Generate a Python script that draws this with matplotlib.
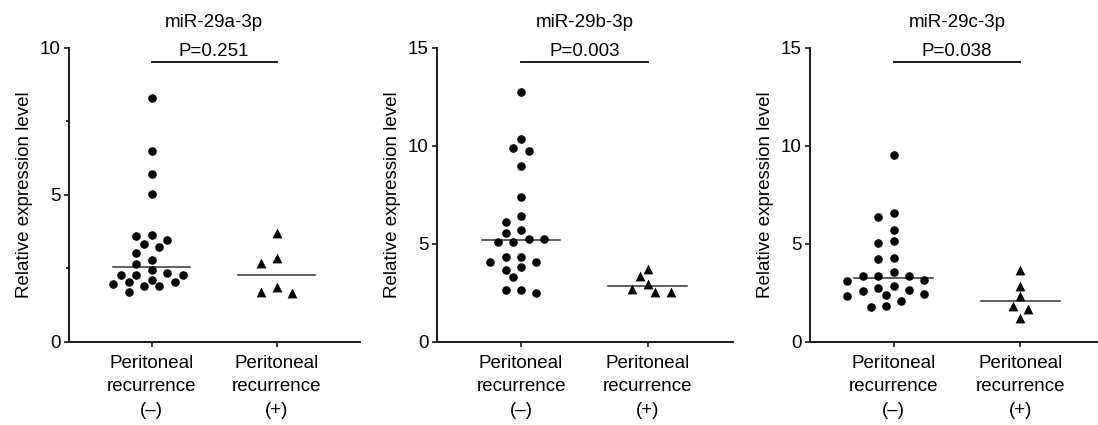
import numpy as np
import matplotlib
matplotlib.use("Agg")
import matplotlib.pyplot as plt

plt.rcParams['font.family'] = ['Liberation Sans', 'DejaVu Sans']

# ---- data ----
titles = ["miR-29a-3p", "miR-29b-3p", "miR-29c-3p"]
p_values = ["P=0.251", "P=0.003", "P=0.038"]
categories = ["Peritoneal\nrecurrence\n(\u2013)", "Peritoneal\nrecurrence\n(+)"]
y_label = "Relative expression level"
y_max = [10, 15, 15]
y_ticks = [[0, 5, 10], [0, 5, 10, 15], [0, 5, 10, 15]]

a_neg = [8.28, 6.50, 5.70, 5.02, 3.65, 3.61, 3.47, 3.32, 3.23, 3.02, 2.80, 2.64,
         2.35, 2.28, 2.28, 2.28, 2.46, 1.97, 2.12, 2.03, 1.89, 1.89, 2.05, 1.69]
a_pos = [3.69, 2.84, 2.67, 1.67, 1.85, 1.71]

b_neg = [12.72, 10.34, 9.73, 9.87, 8.96, 7.40, 6.43, 6.12, 5.68, 5.56, 5.27, 5.10,
         5.10, 5.24, 4.34, 4.31, 4.05, 4.05, 3.69, 3.80, 3.32, 2.48, 2.64, 2.64]
b_pos = [2.52, 3.35, 2.93, 3.71, 2.55, 2.72]

c_neg = [9.54, 6.58, 6.36, 5.68, 5.12, 5.06, 4.21, 4.28, 3.38, 3.38, 3.38, 3.56,
         3.17, 3.09, 2.58, 2.76, 2.63, 2.83, 2.32, 2.37, 2.46, 2.10, 1.78, 1.81]
c_pos = [3.65, 2.87, 2.32, 1.85, 1.70, 1.22]

groups = [(a_neg, a_pos), (b_neg, b_pos), (c_neg, c_pos)]
sig_bar_frac = 0.95  # bar height as fraction of y max

# ---- layout ----
W, H = 1098, 425
fig = plt.figure(figsize=(W / 100, H / 100), dpi=100)
xlim = (0.34, 2.67)
panel_px = [(69.2, 125.0), (437.4, 126.7), (810.1, 126.6)]  # left px, px per category
ax_bottom_px, ax_top_px = 341.9, 47.7
FS = 13.5


def swarm_x(ax, xc, vals, step_px=7.7, dmin_px=10.0):
    vals = np.asarray(vals, float)
    n = len(vals)
    pts = ax.transData.transform(np.column_stack([np.full(n, xc), vals]))
    ypx = pts[:, 1]
    xcpx = pts[0, 0]
    offs = np.zeros(n)
    placed = []
    cands = [0]
    for k in range(1, 12):
        cands += [-k, k]
    for i in np.argsort(-vals, kind="stable"):
        for k in cands:
            x = k * step_px
            if all((x - px) ** 2 + (ypx[i] - py) ** 2 >= dmin_px ** 2 for px, py in placed):
                break
        placed.append((x, ypx[i]))
        offs[i] = x
    back = ax.transData.inverted().transform(np.column_stack([xcpx + offs, ypx]))
    return back[:, 0]


for idx, ((neg, pos), ttl, pv) in enumerate(zip(groups, titles, p_values)):
    left_px, s = panel_px[idx]
    width_px = (xlim[1] - xlim[0]) * s
    ax = fig.add_axes([left_px / W, 1 - ax_bottom_px / H, width_px / W,
                       (ax_bottom_px - ax_top_px) / H])
    ax.set_xlim(*xlim)
    ax.set_ylim(0, y_max[idx])
    for sp in ["top", "right"]:
        ax.spines[sp].set_visible(False)
    for sp in ["left", "bottom"]:
        ax.spines[sp].set_linewidth(1.4)
        ax.spines[sp].set_color("#1a1a1a")

    xn = swarm_x(ax, 1, neg)
    xp = swarm_x(ax, 2, pos)
    ax.scatter(xn, neg, s=38, marker="o", color="black", linewidths=0, zorder=3, clip_on=False)
    ax.scatter(xp, pos, s=50, marker="^", color="black", linewidths=0, zorder=3, clip_on=False)

    hw = 0.31
    for xc, vals in [(1, neg), (2, pos)]:
        m = np.median(vals)
        ax.plot([xc - hw, xc + hw], [m, m], color="#333333", lw=1.1, zorder=2)

    ybar = sig_bar_frac * y_max[idx]
    ax.plot([1, 2], [ybar, ybar], color="#1a1a1a", lw=1.4, clip_on=False)
    ax.annotate(pv, xy=(1.5, ybar), xytext=(0, 4.7), textcoords="offset points",
                ha="center", va="baseline", fontsize=FS)
    ax.annotate(ttl, xy=(1.5, 1.0), xycoords=("data", "axes fraction"),
                xytext=(0, 14.7), textcoords="offset points",
                ha="center", va="baseline", fontsize=FS)

    ax.set_xticks([1, 2])
    ax.set_xticklabels(categories, fontsize=FS, linespacing=1.5)
    ax.set_yticks(y_ticks[idx])
    ax.set_yticklabels([str(t) for t in y_ticks[idx]], fontsize=FS)
    if idx == 0:
        ax.set_yticks([2.5, 7.5], minor=True)
        ax.tick_params(axis="y", which="minor", length=2, width=1.2, direction="out")
    ax.tick_params(axis="both", which="major", length=3.6, width=1.2, direction="out",
                   pad=2.5, color="#1a1a1a")
    ax.tick_params(axis="x", pad=5.5)
    ax.set_ylabel(y_label, fontsize=FS, labelpad=5)

fig.savefig("out.png", dpi=100)
